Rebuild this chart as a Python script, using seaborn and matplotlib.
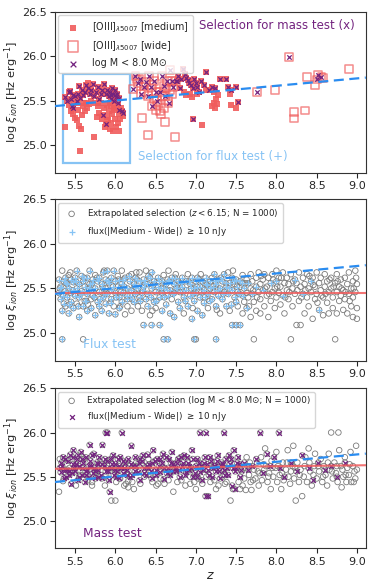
"""xi_ion vs redshift: observed sample, flux test and mass test panels."""

import matplotlib
matplotlib.use("Agg")
import matplotlib.pyplot as plt
from matplotlib.patches import Rectangle
import numpy as np
import pandas as pd
import seaborn as sns

sns.set_style("ticks")
plt.rcParams["font.family"] = ["DejaVu Sans"]
plt.rcParams["mathtext.fontset"] = "dejavusans"

# ---- observed sample (z, log xi_ion) ----
medium_x = [  # medium-band [OIII] with log M < 8 (x)
    (5.38, 25.54), (5.40, 25.50), (5.42, 25.60), (5.44, 25.61), (5.45, 25.52), (5.47, 25.56),
    (5.48, 25.42), (5.50, 25.55), (5.52, 25.50), (5.53, 25.58), (5.55, 25.67), (5.56, 25.53),
    (5.58, 25.62), (5.60, 25.57), (5.62, 25.60), (5.64, 25.68), (5.66, 25.64), (5.68, 25.58),
    (5.70, 25.62), (5.72, 25.69), (5.74, 25.55), (5.76, 25.60), (5.78, 25.66), (5.80, 25.52),
    (5.82, 25.58), (5.84, 25.62), (5.85, 25.34), (5.86, 25.69), (5.88, 25.24), (5.88, 25.58),
    (5.90, 25.62), (5.92, 25.55), (5.93, 25.60), (5.94, 25.52), (5.95, 25.57), (5.96, 25.64),
    (5.97, 25.58), (5.98, 25.50), (5.99, 25.56), (6.00, 25.62), (6.01, 25.54), (6.02, 25.58),
    (6.03, 25.48), (6.04, 25.53), (6.05, 25.40), (6.08, 25.38), (6.10, 25.36), (5.46, 25.44),
    (6.84, 25.86), (6.86, 25.80), (6.88, 25.76), (6.90, 25.73), (6.92, 25.70), (6.94, 25.68),
    (6.96, 25.64), (6.98, 25.74), (7.00, 25.70), (7.02, 25.66), (7.04, 25.60), (7.06, 25.72),
    (7.10, 25.68), (7.13, 25.82), (7.16, 25.62), (7.20, 25.66), (7.24, 25.64), (7.30, 25.75),
    (7.38, 25.74), (7.40, 25.66), (7.44, 25.62), (7.50, 25.66), (7.52, 25.49), (6.97, 25.29),
    (6.80, 25.64), (6.76, 25.72), (6.82, 25.74), (6.78, 25.78),
]
medium_only = [
    (5.37, 25.21), (5.43, 25.45), (5.45, 25.38), (5.47, 25.35), (5.49, 25.47), (5.50, 25.31),
    (5.52, 25.28), (5.53, 25.40), (5.55, 25.22), (5.56, 24.93), (5.57, 25.18), (5.58, 25.34),
    (5.60, 25.44), (5.62, 25.38), (5.63, 25.47), (5.65, 25.42), (5.67, 25.46), (5.70, 25.50),
    (5.73, 25.09), (5.75, 25.48), (5.78, 25.44), (5.80, 25.36), (5.82, 25.47), (5.84, 25.30),
    (5.86, 25.42), (5.87, 25.20), (5.89, 25.32), (5.90, 25.45), (5.91, 25.28), (5.92, 25.38),
    (5.93, 25.18), (5.94, 25.44), (5.95, 25.25), (5.96, 25.35), (5.97, 25.16), (5.98, 25.42),
    (6.00, 25.30), (6.01, 25.20), (6.02, 25.45), (6.03, 25.25), (6.04, 25.35), (6.05, 25.16),
    (6.06, 25.30), (6.07, 25.42), (6.09, 25.33), (5.66, 25.70), (5.61, 25.48), (5.54, 25.48),
    (5.77, 25.32), (5.99, 25.40), (5.93, 25.48),
    (6.85, 25.60), (6.88, 25.56), (6.93, 25.58), (7.08, 25.23), (7.20, 25.44), (7.22, 25.48),
    (7.24, 25.42), (7.25, 25.52), (7.26, 25.46), (7.27, 25.56), (7.42, 25.58), (7.44, 25.45),
    (7.50, 25.42), (7.12, 25.62), (7.02, 25.58), (7.23, 25.60), (6.95, 25.54),
]
wide_x = [
    (6.22, 25.63), (6.25, 25.78), (6.28, 25.70), (6.30, 25.75), (6.32, 25.58), (6.35, 25.66),
    (6.38, 25.71), (6.40, 25.55), (6.42, 25.78), (6.44, 25.65), (6.46, 25.44), (6.48, 25.72),
    (6.50, 25.60), (6.52, 25.50), (6.55, 25.60), (6.58, 25.78), (6.60, 25.67), (6.62, 25.55),
    (6.64, 25.72), (6.66, 25.47), (6.68, 25.85), (6.70, 25.72), (6.72, 25.65), (6.75, 25.72),
    (7.76, 25.60), (8.16, 25.99), (8.52, 25.79), (8.56, 25.77), (8.50, 25.74),
]
wide_only = [
    (6.33, 25.31), (6.40, 25.11), (6.50, 25.40), (6.53, 25.45), (6.55, 25.38), (6.57, 25.35),
    (6.58, 25.55), (6.60, 25.42), (6.62, 25.26), (6.65, 25.50), (6.68, 25.62), (6.70, 25.58),
    (6.74, 25.09), (6.63, 25.64), (6.45, 25.68), (6.36, 25.60), (7.98, 25.62), (8.22, 25.37),
    (8.22, 25.30), (8.35, 25.39), (8.38, 25.77), (8.48, 25.68), (8.58, 25.76), (8.90, 25.86),
    (6.27, 25.74), (6.48, 25.52),
]

# ---- flux test: extrapolated selection (z < 6.15) ----
flux_hi = [  # |Medium - Wide| >= 10 nJy
    (5.30, 25.60), (5.30, 25.45), (5.32, 25.52), (5.32, 25.38), (5.34, 24.93), (5.34, 25.25),
    (5.36, 25.58), (5.36, 25.33), (5.38, 25.62), (5.38, 25.47), (5.40, 25.55), (5.40, 25.40),
    (5.42, 25.50), (5.42, 25.22), (5.45, 25.60), (5.45, 25.35), (5.45, 25.45), (5.48, 25.57),
    (5.48, 25.28), (5.50, 25.62), (5.50, 25.42), (5.52, 25.70), (5.52, 25.50), (5.55, 25.55),
    (5.55, 25.40), (5.55, 25.18), (5.58, 25.64), (5.58, 25.47), (5.60, 25.58), (5.60, 25.30),
    (5.62, 25.52), (5.62, 25.36), (5.65, 25.62), (5.65, 25.44), (5.65, 25.25), (5.68, 25.70),
    (5.68, 25.55), (5.70, 25.48), (5.70, 25.28), (5.72, 25.60), (5.72, 25.42), (5.75, 25.50),
    (5.75, 25.20), (5.78, 25.58), (5.78, 25.35), (5.80, 25.62), (5.80, 25.46), (5.80, 25.30),
    (5.83, 25.55), (5.83, 25.25), (5.85, 25.68), (5.85, 25.40), (5.88, 25.60), (5.88, 25.33),
    (5.90, 25.70), (5.90, 25.44), (5.92, 25.56), (5.92, 25.22), (5.95, 25.62), (5.95, 25.48),
    (5.95, 25.38), (5.98, 25.70), (6.00, 25.58), (6.00, 25.45), (6.00, 25.21), (6.03, 25.52),
    (6.05, 25.40), (6.05, 25.28), (6.08, 25.55), (6.08, 25.35), (6.10, 25.60), (6.10, 25.45),
    (6.12, 25.62), (6.15, 25.50), (6.15, 25.38), (6.18, 25.58), (6.18, 25.42), (6.20, 25.48),
    (6.23, 25.55), (6.23, 25.35), (6.25, 25.62), (6.25, 25.44), (6.28, 25.50), (6.30, 25.58),
    (6.30, 25.40), (6.33, 25.45), (6.35, 25.09), (6.35, 25.60), (6.35, 25.52), (6.38, 25.38),
    (6.40, 25.55), (6.40, 25.44), (6.40, 25.30), (6.43, 25.62), (6.45, 25.09), (6.45, 25.50),
    (6.45, 25.68), (6.48, 25.58), (6.48, 25.35), (6.50, 25.46), (6.53, 25.62), (6.53, 25.52),
    (6.55, 25.09), (6.55, 25.40), (6.58, 25.58), (6.58, 25.45), (6.58, 25.25), (6.60, 24.93),
    (6.60, 25.50), (6.63, 25.55), (6.63, 25.32), (6.65, 24.93), (6.65, 25.60), (6.65, 25.42),
    (6.68, 25.48), (6.68, 25.22), (6.70, 25.62), (6.73, 25.55), (6.73, 25.45), (6.73, 25.18),
    (6.75, 25.50), (6.78, 25.58), (6.78, 25.35), (6.80, 25.46), (6.80, 25.28), (6.83, 25.62),
    (6.83, 25.52), (6.85, 25.40), (6.88, 25.58), (6.88, 25.48), (6.90, 25.30), (6.93, 25.55),
    (6.93, 25.42), (6.95, 25.62), (6.95, 25.16), (6.98, 24.93), (6.98, 25.50), (6.98, 25.36),
    (7.00, 25.58), (7.00, 25.45), (7.02, 25.62), (7.02, 25.25), (7.05, 25.52), (7.05, 25.40),
    (7.08, 25.58), (7.08, 25.20), (7.10, 25.48), (7.10, 25.34), (7.12, 25.62), (7.12, 25.55),
    (7.15, 25.44), (7.18, 25.58), (7.18, 25.50), (7.20, 25.38), (7.23, 25.66), (7.23, 25.46),
    (7.25, 24.93), (7.25, 25.55), (7.25, 25.30), (7.28, 25.60), (7.28, 25.42), (7.30, 25.50),
    (7.33, 25.58), (7.33, 25.38), (7.35, 25.66), (7.35, 25.46), (7.38, 25.52), (7.38, 25.30),
    (7.40, 25.44), (7.42, 25.56), (7.45, 25.09), (7.45, 25.62), (7.45, 25.48), (7.48, 25.40),
    (7.50, 25.09), (7.50, 25.60), (7.50, 25.35), (7.52, 25.46), (7.55, 25.09), (7.55, 25.58),
    (7.58, 25.42), (7.60, 25.50), (7.63, 25.28), (7.65, 25.56), (7.70, 25.44), (7.75, 25.52),
    (7.83, 25.48), (7.93, 25.56), (8.00, 25.58), (8.08, 25.42), (8.23, 25.60), (8.33, 25.44),
    (8.43, 25.58), (8.53, 25.26),
    (5.31, 25.50), (5.35, 25.42), (5.39, 25.56), (5.43, 25.32), (5.47, 25.48), (5.51, 25.58),
    (5.54, 25.30), (5.57, 25.44), (5.61, 25.62), (5.64, 25.36), (5.67, 25.50), (5.71, 25.56),
    (5.74, 25.40), (5.77, 25.62), (5.81, 25.38), (5.84, 25.52), (5.87, 25.44), (5.91, 25.58),
    (5.94, 25.34), (5.97, 25.52), (6.01, 25.40), (6.04, 25.60), (6.07, 25.46), (6.11, 25.52),
    (6.14, 25.42), (6.17, 25.64), (6.21, 25.38), (6.24, 25.52), (6.27, 25.60), (6.31, 25.36),
    (6.34, 25.48), (6.37, 25.56), (6.41, 25.64), (6.44, 25.40), (6.47, 25.54), (6.51, 25.36),
    (6.54, 25.58), (6.57, 25.50), (6.61, 25.40), (6.64, 25.48), (6.67, 25.58), (6.71, 25.44),
    (6.74, 25.62), (6.77, 25.50), (6.81, 25.56), (6.84, 25.46), (6.87, 25.36), (6.91, 25.58),
    (6.94, 25.50), (6.97, 25.44), (7.01, 25.52), (7.04, 25.60), (7.07, 25.46), (7.11, 25.40),
    (7.14, 25.54), (7.17, 25.36), (7.21, 25.52), (7.24, 25.58), (7.27, 25.48), (7.31, 25.62),
    (7.34, 25.44), (7.37, 25.56), (7.41, 25.50), (7.44, 25.32), (7.47, 25.58), (7.51, 25.52),
    (7.54, 25.44), (7.57, 25.56),
]
flux_lo = [
    (5.34, 25.70), (5.38, 25.30), (5.42, 25.65), (5.52, 25.33), (5.60, 24.93), (5.70, 25.38),
    (5.75, 25.65), (5.88, 25.50), (5.98, 25.30), (6.03, 25.64), (6.08, 25.70), (6.12, 25.21),
    (6.15, 25.30), (6.20, 25.66), (6.20, 25.25), (6.28, 25.30), (6.30, 25.68), (6.33, 25.25),
    (6.38, 25.70), (6.43, 25.20), (6.50, 25.28), (6.60, 25.65), (6.70, 25.38), (6.75, 25.66),
    (6.85, 25.22), (6.90, 25.66), (7.00, 24.93), (7.15, 25.28), (7.20, 25.62), (7.30, 25.22),
    (7.40, 25.68), (7.42, 25.25), (7.48, 25.55), (7.52, 25.30), (7.55, 25.52), (7.58, 25.65),
    (7.58, 25.22), (7.60, 25.35), (7.63, 25.60), (7.63, 25.45), (7.65, 25.40), (7.68, 25.66),
    (7.68, 25.50), (7.68, 25.18), (7.70, 25.58), (7.72, 24.93), (7.72, 25.35), (7.75, 25.62),
    (7.75, 25.25), (7.78, 25.68), (7.78, 25.46), (7.80, 25.55), (7.80, 25.38), (7.80, 25.22),
    (7.83, 25.60), (7.85, 25.66), (7.85, 25.30), (7.88, 25.52), (7.88, 25.42), (7.90, 25.62),
    (7.90, 25.18), (7.93, 25.36), (7.95, 25.66), (7.95, 25.46), (7.98, 25.50), (7.98, 25.28),
    (8.00, 25.70), (8.00, 25.40), (8.03, 25.62), (8.03, 25.45), (8.05, 25.52), (8.05, 25.32),
    (8.08, 25.68), (8.10, 25.56), (8.10, 25.22), (8.13, 25.62), (8.13, 25.48), (8.15, 25.38),
    (8.15, 25.55), (8.18, 24.93), (8.18, 25.66), (8.20, 25.50), (8.20, 25.30), (8.23, 25.44),
    (8.25, 25.09), (8.25, 25.56), (8.28, 25.68), (8.28, 25.36), (8.30, 25.09), (8.30, 25.52),
    (8.33, 25.62), (8.35, 25.55), (8.35, 25.22), (8.38, 25.66), (8.38, 25.40), (8.40, 25.50),
    (8.40, 25.30), (8.43, 25.46), (8.45, 25.62), (8.45, 25.16), (8.48, 25.52), (8.48, 25.38),
    (8.50, 25.68), (8.50, 25.44), (8.53, 25.56), (8.55, 25.62), (8.55, 25.48), (8.58, 25.40),
    (8.58, 25.20), (8.60, 25.66), (8.60, 25.52), (8.63, 25.58), (8.63, 25.34), (8.65, 25.46),
    (8.65, 25.22), (8.68, 25.62), (8.68, 25.50), (8.70, 25.40), (8.70, 25.28), (8.73, 24.93),
    (8.73, 25.56), (8.75, 25.66), (8.75, 25.46), (8.75, 25.22), (8.78, 25.52), (8.78, 25.36),
    (8.80, 25.60), (8.80, 25.42), (8.83, 25.48), (8.83, 25.26), (8.85, 25.62), (8.85, 25.38),
    (8.88, 25.55), (8.88, 25.22), (8.90, 25.68), (8.90, 25.44), (8.93, 25.50), (8.93, 25.30),
    (8.95, 25.58), (8.95, 25.40), (8.95, 25.18), (8.98, 25.70), (8.98, 25.46), (9.00, 25.55),
    (9.00, 25.28), (9.00, 25.16),
    (7.61, 25.56), (7.66, 25.30), (7.71, 25.48), (7.76, 25.40), (7.81, 25.64), (7.86, 25.50),
    (7.91, 25.44), (7.96, 25.60), (8.01, 25.52), (8.06, 25.62), (8.11, 25.40), (8.16, 25.46),
    (8.21, 25.58), (8.26, 25.48), (8.31, 25.40), (8.36, 25.48), (8.41, 25.64), (8.46, 25.54),
    (8.51, 25.34), (8.56, 25.42), (8.61, 25.44), (8.66, 25.60), (8.71, 25.52), (8.76, 25.58),
    (8.81, 25.50), (8.86, 25.46), (8.91, 25.36), (8.96, 25.50), (8.99, 25.62), (5.44, 25.68),
    (5.86, 25.70), (6.26, 25.68), (6.66, 25.70), (7.06, 25.66), (7.46, 25.70), (6.96, 25.28),
    (6.46, 25.25), (6.06, 25.30), (5.66, 25.32), (7.26, 25.26),
]

# ---- mass test: extrapolated selection (log M < 8.0) ----
mass_hi = [  # |Medium - Wide| >= 10 nJy
    (5.32, 25.55), (5.34, 25.62), (5.36, 25.48), (5.38, 25.70), (5.40, 25.58), (5.42, 25.52),
    (5.44, 25.75), (5.45, 25.42), (5.47, 25.64), (5.48, 25.80), (5.50, 25.56), (5.52, 25.70),
    (5.53, 25.46), (5.55, 25.62), (5.57, 25.78), (5.58, 25.52), (5.60, 25.66), (5.62, 25.44),
    (5.63, 25.72), (5.65, 25.58), (5.67, 25.50), (5.68, 25.86), (5.70, 25.62), (5.72, 25.54),
    (5.73, 25.76), (5.75, 25.48), (5.77, 25.66), (5.78, 25.58), (5.80, 25.72), (5.82, 25.52),
    (5.84, 25.86), (5.86, 25.62), (5.88, 26.00), (5.90, 26.00), (5.88, 25.56), (5.90, 25.68),
    (5.92, 25.46), (5.93, 25.33), (5.95, 25.60), (5.97, 25.74), (5.98, 25.52), (6.00, 25.64),
    (6.02, 25.56), (6.03, 25.70), (6.05, 25.48), (6.07, 25.60), (6.08, 26.00), (6.10, 25.54),
    (6.12, 25.66), (6.15, 25.58), (6.18, 25.50), (6.20, 25.85), (6.22, 25.62), (6.25, 25.72),
    (6.28, 25.55), (6.30, 25.46), (6.33, 25.68), (6.35, 25.60), (6.38, 25.52), (6.40, 25.75),
    (6.42, 25.64), (6.45, 25.48), (6.47, 25.80), (6.50, 25.58), (6.52, 25.70), (6.55, 25.55),
    (6.58, 25.65), (6.60, 25.47), (6.63, 25.72), (6.65, 25.60), (6.68, 25.52), (6.70, 25.78),
    (6.72, 25.64), (6.75, 25.56), (6.78, 25.70), (6.80, 25.50), (6.83, 25.62), (6.85, 25.74),
    (6.88, 25.55), (6.90, 25.66), (6.92, 25.58), (6.95, 25.80), (6.97, 25.50), (7.00, 25.62),
    (7.02, 25.70), (7.05, 26.00), (7.05, 25.55), (7.07, 25.46), (7.10, 25.66), (7.12, 26.00),
    (7.12, 25.28), (7.15, 25.28), (7.15, 25.58), (7.17, 25.72), (7.20, 25.50), (7.22, 25.62),
    (7.25, 25.56), (7.27, 25.74), (7.30, 25.48), (7.32, 25.66), (7.35, 26.00), (7.35, 25.58),
    (7.37, 25.70), (7.40, 25.52), (7.42, 25.64), (7.45, 25.40), (7.47, 25.80), (7.48, 25.36),
    (7.50, 25.60), (7.52, 25.72), (7.55, 25.50), (7.60, 25.66), (7.65, 25.58), (7.70, 25.62),
    (7.75, 25.70), (7.80, 26.00), (7.83, 25.54), (7.88, 25.76), (7.92, 25.62), (7.97, 25.72),
    (8.03, 26.00), (8.05, 25.60), (8.10, 25.50), (8.18, 25.66), (8.25, 25.56), (8.32, 25.74),
    (8.40, 25.60), (8.45, 25.46), (8.52, 25.66), (8.60, 25.58), (8.68, 25.62), (8.75, 25.50),
    (8.85, 25.66),
    (5.33, 25.66), (5.37, 25.58), (5.41, 25.68), (5.46, 25.54), (5.49, 25.60), (5.54, 25.74),
    (5.59, 25.60), (5.64, 25.52), (5.69, 25.68), (5.74, 25.60), (5.79, 25.50), (5.83, 25.64),
    (5.89, 25.60), (5.94, 25.70), (5.99, 25.58), (6.04, 25.62), (6.09, 25.68), (6.14, 25.52),
    (6.19, 25.64), (6.24, 25.56), (6.29, 25.66), (6.34, 25.74), (6.39, 25.62), (6.44, 25.56),
    (6.49, 25.68), (6.54, 25.62), (6.59, 25.76), (6.64, 25.54), (6.69, 25.66), (6.74, 25.60),
    (6.79, 25.58), (6.84, 25.66), (6.89, 25.72), (6.94, 25.60), (6.99, 25.54), (7.04, 25.66),
    (7.09, 25.58), (7.14, 25.64), (7.19, 25.68), (7.24, 25.62), (7.29, 25.56), (7.34, 25.64),
    (7.39, 25.60), (7.44, 25.70), (7.49, 25.56), (7.54, 25.64),
    (5.31, 25.60), (5.35, 25.72), (5.39, 25.50), (5.43, 25.56), (5.47, 25.72), (5.51, 25.64),
    (5.55, 25.50), (5.59, 25.70), (5.63, 25.56), (5.67, 25.62), (5.71, 25.74), (5.75, 25.56),
    (5.79, 25.64), (5.83, 25.48), (5.87, 25.70), (5.91, 25.56), (5.96, 25.64), (6.01, 25.50),
    (6.06, 25.72), (6.11, 25.60), (6.16, 25.70), (6.21, 25.52), (6.26, 25.62), (6.31, 25.70),
    (6.36, 25.54), (6.41, 25.60), (6.46, 25.66), (6.51, 25.52), (6.56, 25.70), (6.61, 25.60),
    (6.66, 25.70), (6.71, 25.56), (6.76, 25.66), (6.81, 25.72), (6.86, 25.52), (6.91, 25.62),
    (6.96, 25.70), (7.01, 25.50), (7.06, 25.62), (7.11, 25.72), (7.16, 25.52), (7.21, 25.60),
    (7.26, 25.68), (7.31, 25.62), (7.36, 25.52), (7.41, 25.74), (7.46, 25.60), (7.51, 25.66),
    (7.56, 25.58),
]
mass_lo = [
    (5.30, 25.33), (5.31, 25.70), (5.35, 25.45), (5.43, 25.60), (5.56, 25.52), (5.66, 25.46),
    (5.76, 25.54), (5.87, 25.40), (5.95, 25.23), (6.00, 25.23), (6.06, 25.48), (6.13, 25.42),
    (6.17, 25.62), (6.21, 25.44), (6.26, 25.66), (6.31, 25.42), (6.36, 25.50), (6.41, 25.70),
    (6.46, 25.44), (6.51, 25.40), (6.56, 25.48), (6.61, 25.42), (6.66, 25.46), (6.72, 25.33),
    (6.77, 25.44), (6.82, 25.46), (6.87, 25.40), (6.93, 25.50), (6.98, 25.44), (7.03, 25.48),
    (7.08, 25.42), (7.13, 25.50), (7.18, 25.44), (7.23, 25.46), (7.28, 25.40), (7.33, 25.50),
    (7.38, 25.44), (7.43, 25.23), (7.53, 25.44), (7.57, 25.56), (7.58, 25.40), (7.60, 25.48),
    (7.62, 25.35), (7.64, 25.62), (7.66, 25.52), (7.68, 25.44), (7.69, 25.35), (7.72, 25.58),
    (7.74, 25.48), (7.76, 25.66), (7.78, 25.40), (7.79, 25.54), (7.81, 25.72), (7.82, 25.46),
    (7.85, 25.58), (7.86, 25.82), (7.87, 25.62), (7.89, 25.44), (7.91, 25.54), (7.93, 25.36),
    (7.94, 25.68), (7.96, 25.50), (7.99, 25.60), (8.00, 25.78), (8.01, 25.44), (8.04, 25.52),
    (8.06, 25.36), (8.08, 25.66), (8.09, 25.46), (8.12, 25.58), (8.14, 25.80), (8.15, 25.50),
    (8.17, 25.42), (8.20, 25.62), (8.21, 25.85), (8.22, 25.48), (8.24, 25.23), (8.26, 25.66),
    (8.28, 25.44), (8.30, 25.58), (8.32, 25.28), (8.34, 25.50), (8.36, 25.72), (8.38, 25.44),
    (8.40, 25.82), (8.42, 25.56), (8.44, 25.40), (8.47, 25.62), (8.48, 25.76), (8.50, 25.48),
    (8.53, 25.56), (8.55, 25.70), (8.57, 25.44), (8.59, 25.62), (8.61, 25.52), (8.63, 25.40),
    (8.65, 25.76), (8.66, 25.58), (8.68, 26.00), (8.70, 25.48), (8.72, 25.66), (8.74, 25.54),
    (8.76, 25.44), (8.77, 26.00), (8.78, 25.80), (8.80, 25.62), (8.81, 25.38), (8.83, 25.50),
    (8.85, 25.72), (8.87, 25.44), (8.88, 25.60), (8.90, 25.52), (8.92, 25.78), (8.93, 25.44),
    (8.95, 25.62), (8.97, 25.56), (8.98, 25.48), (8.99, 25.85), (9.00, 25.58),
    (5.51, 25.40), (5.61, 25.70), (5.71, 25.44), (5.81, 25.66), (5.91, 25.48), (6.01, 25.44),
    (6.11, 25.40), (6.16, 25.45), (6.23, 25.36), (6.43, 25.52), (6.62, 25.58), (7.00, 25.36),
    (7.25, 25.36), (7.46, 25.36), (7.55, 25.36), (7.63, 25.72),
    (7.61, 25.60), (7.67, 25.66), (7.71, 25.46), (7.77, 25.56), (7.84, 25.64), (7.90, 25.50),
    (7.95, 25.60), (8.02, 25.62), (8.07, 25.54), (8.13, 25.66), (8.18, 25.56), (8.23, 25.60),
    (8.29, 25.52), (8.35, 25.62), (8.41, 25.66), (8.46, 25.52), (8.52, 25.62), (8.58, 25.50),
    (8.64, 25.66), (8.69, 25.56), (8.75, 25.62), (8.82, 25.58), (8.86, 25.52), (8.91, 25.64),
    (8.96, 25.44), (6.53, 25.42), (6.93, 25.42), (7.36, 25.42), (5.71, 25.40), (6.16, 25.38),
]

# linear trend of the observed sample (dashed) and per-test means (solid)
trend_coef = (25.004, 0.0831)      # intercept, slope
flux_mean_coef = (25.45, 0.0)
mass_mean_coef = (25.535, 0.0104)
flux_box = (5.35, 24.80, 0.83, 1.00)  # z0, xi0, width, height

XLIM = (5.25, 9.11)
YLIM = (24.69, 26.5)
C_RED = "#f05c5c"
C_PURPLE = "#73237f"
C_LBLUE = "#86c3f4"
C_DASH = "#2a8cf0"
C_GRAY = "#7a7a7a"


def frame(pts):
    return pd.DataFrame(pts, columns=["z", "xi"])


def add_lines(ax, mean_coef=None):
    zz = np.array(XLIM)
    if mean_coef is not None:
        ax.plot(zz, mean_coef[0] + mean_coef[1] * zz, color=C_RED, lw=1.5, alpha=0.85, zorder=5)
    ax.plot(zz, trend_coef[0] + trend_coef[1] * zz, color=C_DASH, lw=1.6, ls=(0, (4.5, 2.5)), zorder=6)


def style_axes(ax):
    ax.set_xlim(*XLIM)
    ax.set_ylim(*YLIM)
    ax.set_xticks([5.5, 6.0, 6.5, 7.0, 7.5, 8.0, 8.5, 9.0])
    ax.set_yticks([25.0, 25.5, 26.0, 26.5])
    ax.tick_params(labelsize=8, length=3.5, width=0.8, pad=2.5)
    ax.set_ylabel(r"log $\xi_{ion}$ [Hz erg$^{-1}$]", fontsize=8.2)
    ax.yaxis.set_label_coords(-0.11, 0.5)
    ax.set_xlabel("")
    for s in ax.spines.values():
        s.set_linewidth(0.8)
        s.set_color("#333333")


fig = plt.figure(figsize=(3.74, 5.87), dpi=100)
ax1 = fig.add_axes([0.147, 0.7058, 0.831, 0.2738])
ax2 = fig.add_axes([0.147, 0.3855, 0.831, 0.2750])
ax3 = fig.add_axes([0.147, 0.0659, 0.831, 0.2726])

# ---- panel 1: observed sample ----
med = pd.concat([frame(medium_x), frame(medium_only)])
wide = pd.concat([frame(wide_x), frame(wide_only)])
xsel = pd.concat([frame(medium_x), frame(wide_x)])
sns.scatterplot(data=med, x="z", y="xi", ax=ax1, marker="s", s=13, color=C_RED, alpha=0.9,
                linewidth=0, label=r"[OIII]$_{\lambda5007}$ [medium]", zorder=3)
sns.scatterplot(data=wide, x="z", y="xi", ax=ax1, marker="s", s=32, facecolor="none",
                edgecolor=C_RED, linewidth=1.1, alpha=0.7, label=r"[OIII]$_{\lambda5007}$ [wide]", zorder=3)
sns.scatterplot(data=xsel, x="z", y="xi", ax=ax1, marker="x", s=10, color=C_PURPLE,
                linewidth=0.9, label="log M < 8.0 M⊙", zorder=4)
ax1.add_patch(Rectangle(flux_box[:2], flux_box[2], flux_box[3], fill=False,
                        edgecolor=C_LBLUE, lw=1.6, zorder=2))
add_lines(ax1)
ax1.text(0.463, 0.915, "Selection for mass test (x)", transform=ax1.transAxes,
         color=C_PURPLE, fontsize=8.5, va="center", ha="left")
ax1.text(0.267, 0.10, "Selection for flux test (+)", transform=ax1.transAxes,
         color=C_LBLUE, fontsize=8.5, va="center", ha="left")
ax1.legend(loc="upper left", fontsize=6.9, frameon=True, borderpad=0.5, labelspacing=0.55,
           handletextpad=1.0, borderaxespad=0.35, markerscale=1.3)
style_axes(ax1)

# ---- panel 2: flux test ----
fl_all = pd.concat([frame(flux_hi), frame(flux_lo)])
sns.scatterplot(data=fl_all, x="z", y="xi", ax=ax2, marker="o", s=16, facecolor="none",
                edgecolor=C_GRAY, linewidth=0.6, label=r"Extrapolated selection ($z < 6.15$; N = 1000)",
                zorder=2)
sns.scatterplot(data=frame(flux_hi), x="z", y="xi", ax=ax2, marker="+", s=20, color=C_LBLUE,
                linewidth=0.9, label=r"flux(|Medium - Wide|) $\geq$ 10 nJy", zorder=3)
add_lines(ax2, flux_mean_coef)
ax2.text(0.09, 0.10, "Flux test", transform=ax2.transAxes, color=C_LBLUE, fontsize=8.8,
         va="center", ha="left")
ax2.legend(loc="upper left", fontsize=6.3, frameon=True, borderpad=0.5, labelspacing=0.6,
           handletextpad=0.8, borderaxespad=0.4)
style_axes(ax2)

# ---- panel 3: mass test ----
ms_all = pd.concat([frame(mass_hi), frame(mass_lo)])
sns.scatterplot(data=ms_all, x="z", y="xi", ax=ax3, marker="o", s=16, facecolor="none",
                edgecolor=C_GRAY, linewidth=0.6,
                label="Extrapolated selection (log M < 8.0 M⊙; N = 1000)", zorder=2)
sns.scatterplot(data=frame(mass_hi), x="z", y="xi", ax=ax3, marker="x", s=12, color=C_PURPLE,
                linewidth=0.9, label=r"flux(|Medium - Wide|) $\geq$ 10 nJy", zorder=3)
add_lines(ax3, mass_mean_coef)
ax3.text(0.09, 0.094, "Mass test", transform=ax3.transAxes, color=C_PURPLE, fontsize=8.8,
         va="center", ha="left")
ax3.legend(loc="upper left", fontsize=6.3, frameon=True, borderpad=0.5, labelspacing=0.6,
           handletextpad=0.8, borderaxespad=0.4)
style_axes(ax3)
ax3.set_xlabel(r"$z$", fontsize=9, labelpad=2)

fig.savefig("out.png", dpi=100)
plt.close(fig)
